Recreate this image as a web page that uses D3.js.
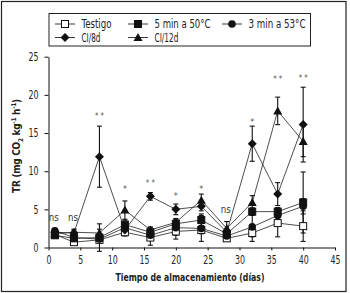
<!DOCTYPE html>
<html>
<head>
<meta charset="utf-8">
<script src="https://cdn.jsdelivr.net/npm/d3@7"></script>
<style>
  body { margin: 0; background: #fff; overflow: hidden; }
  svg text { font-family: "DejaVu Sans Condensed", "Liberation Sans Narrow", "Liberation Sans", sans-serif; }
</style>
</head>
<body>
<script>
// storage days
const days = [1, 4, 8, 12, 16, 20, 24, 28, 32, 36, 40];

// respiration rate (mg CO2 kg-1 h-1) and error
const testigo = [1.7, 0.7, 1.0, 2.0, 1.3, 2.1, 2.3, 1.2, 1.9, 3.2, 2.8];
const testigoErr = [0.3, 0.3, 0.3, 0.5, 1.0, 1.0, 0.5, 0.3, 0.5, 1.8, 2.0];
const min5 = [1.6, 1.2, 1.3, 3.0, 2.0, 3.1, 3.6, 1.8, 4.7, 4.7, 5.9];
const min5Err = [0.3, 0.5, 1.8, 0.6, 0.6, 0.6, 0.8, 0.4, 0.5, 0.5, 4.0];
const min3 = [2.2, 1.3, 1.1, 2.6, 1.6, 2.6, 2.5, 1.5, 2.7, 4.2, 5.4];
const min3Err = [0.3, 0.4, 0.4, 0.5, 0.5, 1.0, 1.7, 0.4, 1.9, 1.0, 1.0];
const ci8 = [2.0, 1.9, 11.9, 2.3, 6.7, 5.0, 5.4, 2.0, 13.6, 7.0, 16.1];
const ci8Err = [0.3, 0.4, 4.0, 0.5, 0.5, 0.7, 0.6, 0.4, 2.3, 1.5, 4.9];
const ci12 = [1.8, 2.0, 1.9, 4.9, 2.3, 3.3, 6.2, 2.5, 5.9, 17.9, 13.9];
const ci12Err = [0.3, 0.4, 0.5, 1.2, 0.4, 0.5, 0.8, 0.9, 0.9, 1.8, 2.0];

// significance marks: [day, level, label]
const signif = [[1, 4.0, "ns"], [4, 4.0, "ns"], [8, 17.6, "**"], [12, 8.1, "*"], [16, 8.8, "**"],
                [20, 7.2, "*"], [24, 8.1, "*"], [28, 5.0, "ns"], [32, 16.8, "*"], [36, 22.5, "**"], [40, 22.6, "**"]];

const xTicks = [0, 5, 10, 15, 20, 25, 30, 35, 40, 45];
const yTicks = [0, 5, 10, 15, 20, 25];

const series = [
    {name: "Testigo", values: testigo, err: testigoErr, symbol: "osquare", w: 30},
    {name: "5 min a 50°C", values: min5, err: min5Err, symbol: "square", w: 56},
    {name: "3 min a 53°C", values: min3, err: min3Err, symbol: "circle", w: 57},
    {name: "CI/8d", values: ci8, err: ci8Err, symbol: "diamond", w: 19},
    {name: "CI/12d", values: ci12, err: ci12Err, symbol: "triangle", w: 24}
];

const width = 350, height = 293;
const svg = d3.select("body").append("svg")
    .attr("width", width)
    .attr("height", height);

// outer frame
svg.append("rect")
    .attr("x", 1.5).attr("y", 1.5)
    .attr("width", 344.5).attr("height", 290)
    .attr("fill", "none").attr("stroke", "#222").attr("stroke-width", 1.2);

const xScale = d3.scaleLinear().domain([0, 45]).range([48.5, 335]);
const yScale = d3.scaleLinear().domain([0, 25]).range([247.5, 56.7]);

const xAxis = d3.axisBottom(xScale).tickValues(xTicks).tickSize(3).tickPadding(5).tickFormat(d => d);
const yAxis = d3.axisLeft(yScale).tickValues(yTicks).tickSize(4).tickPadding(6).tickFormat(d => d);

function styleAxis(g) {
    g.select(".domain").attr("stroke", "#111").attr("stroke-width", 1);
    g.selectAll(".tick line").attr("stroke", "#111");
    g.selectAll(".tick text").attr("fill", "#222").style("font-size", "11.5px")
        .attr("textLength", d => d >= 10 ? 10 : 5).attr("lengthAdjust", "spacingAndGlyphs");
}

svg.append("g")
    .attr("class", "xaxis")
    .attr("transform", "translate(0," + yScale(0) + ")")
    .call(xAxis.tickSizeOuter(0))
    .call(styleAxis);

svg.append("g")
    .attr("class", "yaxis")
    .attr("transform", "translate(" + xScale(0) + ",0)")
    .call(yAxis.tickSizeOuter(0))
    .call(styleAxis);

// axis titles
svg.append("text")
    .attr("x", 190).attr("y", 281)
    .attr("text-anchor", "middle")
    .attr("fill", "#222")
    .attr("textLength", 149).attr("lengthAdjust", "spacingAndGlyphs")
    .style("font-size", "11px").style("font-weight", "bold")
    .text("Tiempo de almacenamiento (días)");

const yTitle = svg.append("text")
    .attr("transform", "translate(20,146) rotate(-90)")
    .attr("text-anchor", "middle")
    .attr("fill", "#222")
    .style("font-size", "10px").style("font-weight", "bold")
    .style("letter-spacing", "-0.3px");
yTitle.append("tspan").text("TR (mg CO");
yTitle.append("tspan").attr("dy", 3).style("font-size", "6.5px").text("2");
yTitle.append("tspan").attr("dy", -3).text(" kg");
yTitle.append("tspan").attr("dy", -4).style("font-size", "6.5px").text("-1");
yTitle.append("tspan").attr("dy", 4).text(" h");
yTitle.append("tspan").attr("dy", -4).style("font-size", "6.5px").text("-1");
yTitle.append("tspan").attr("dy", 4).text(")");

function drawSymbol(g, type, cx, cy) {
    if (type === "osquare" || type === "square") {
        g.append("rect")
            .attr("x", cx - 3.5).attr("y", cy - 3.5)
            .attr("width", 7).attr("height", 7)
            .attr("fill", type === "osquare" ? "#fff" : "#111")
            .attr("stroke", "#111").attr("stroke-width", 1);
    } else if (type === "circle") {
        g.append("circle")
            .attr("cx", cx).attr("cy", cy).attr("r", 3.8)
            .attr("fill", "#111");
    } else if (type === "diamond") {
        g.append("path")
            .attr("d", "M" + cx + "," + (cy - 4.5) + "L" + (cx + 4.5) + "," + cy +
                "L" + cx + "," + (cy + 4.5) + "L" + (cx - 4.5) + "," + cy + "Z")
            .attr("fill", "#111");
    } else if (type === "triangle") {
        g.append("path")
            .attr("d", "M" + cx + "," + (cy - 4.5) + "L" + (cx + 4.5) + "," + (cy + 3.5) +
                "L" + (cx - 4.5) + "," + (cy + 3.5) + "Z")
            .attr("fill", "#111");
    }
}

const line = d3.line()
    .x(d => xScale(d[0]))
    .y(d => yScale(d[1]));

// lines
series.forEach(s => {
    svg.append("path")
        .datum(days.map((d, i) => [d, s.values[i]]))
        .attr("d", line)
        .attr("fill", "none")
        .attr("stroke", "#222")
        .attr("stroke-width", 0.8);
});

// error bars
series.forEach(s => {
    const g = svg.append("g").attr("class", "err");
    days.forEach((d, i) => {
        const x = xScale(d), y0 = yScale(s.values[i] - s.err[i]), y1 = yScale(s.values[i] + s.err[i]);
        g.append("line").attr("x1", x).attr("x2", x).attr("y1", y0).attr("y2", y1)
            .attr("stroke", "#111").attr("stroke-width", 1.1);
        [y0, y1].forEach(y => {
            g.append("line").attr("x1", x - 2.5).attr("x2", x + 2.5).attr("y1", y).attr("y2", y)
                .attr("stroke", "#111").attr("stroke-width", 1.1);
        });
    });
});

// markers
series.forEach(s => {
    const g = svg.append("g").attr("class", "marks");
    days.forEach((d, i) => drawSymbol(g, s.symbol, xScale(d), yScale(s.values[i])));
});

// significance labels
svg.append("g").selectAll("text")
    .data(signif)
    .join("text")
    .attr("x", d => xScale(d[0]) - (d[2] === "ns" ? 1 : 0))
    .attr("y", d => yScale(d[1]) + (d[2] === "ns" ? 4 : 6))
    .attr("text-anchor", "middle")
    .attr("fill", d => d[2] === "ns" ? "#333" : "#555")
    .style("font-size", d => d[2] === "ns" ? "11px" : "9px")
    .attr("textLength", d => d[2] === "ns" ? 10 : (d[2] === "**" ? 9 : 4))
    .attr("lengthAdjust", "spacingAndGlyphs")
    .text(d => d[2] === "**" ? "* *" : d[2]);

// legend
const legend = svg.append("g").attr("class", "legend");
legend.append("rect")
    .attr("x", 49).attr("y", 13.5).attr("width", 261.5).attr("height", 32.5)
    .attr("fill", "#fff").attr("stroke", "#222").attr("stroke-width", 1);

const legendPos = [[55, 24], [128, 24], [222, 24], [55, 37.5], [128, 37.5]];
series.forEach((s, i) => {
    const [lx, ly] = legendPos[i];
    legend.append("line")
        .attr("x1", lx).attr("x2", lx + 20).attr("y1", ly).attr("y2", ly)
        .attr("stroke", "#222").attr("stroke-width", 0.9);
    drawSymbol(legend, s.symbol, lx + 10, ly);
    legend.append("text")
        .attr("x", lx + 26.5).attr("y", ly + 4)
        .attr("fill", "#222")
        .style("font-size", "12px")
        .attr("textLength", s.w).attr("lengthAdjust", "spacingAndGlyphs")
        .text(s.name);
});
</script>
</body>
</html>
